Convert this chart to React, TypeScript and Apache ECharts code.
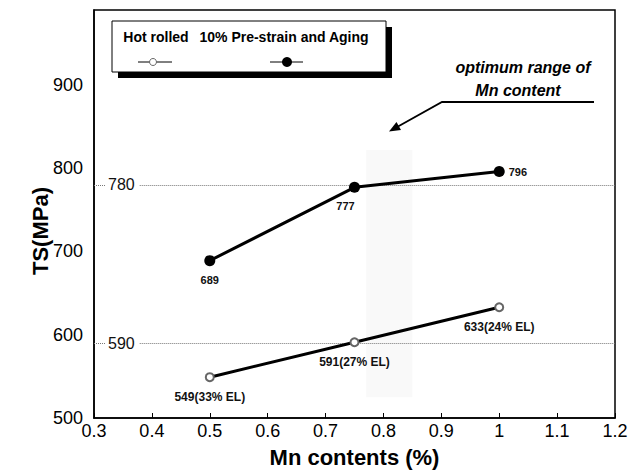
import React, { useEffect, useRef } from "react";
import * as echarts from "echarts";

const mnContents = [0.5, 0.75, 1.0];
const hotRolledTS = [549, 591, 633];
const hotRolledEL = [33, 27, 24];
const agingTS = [689, 777, 796];
const refLines = [780, 590];
const optimumRangeX = [0.77, 0.85];
const optimumRangeY = [525, 822];
const xTicks = { min: 0.3, max: 1.2, interval: 0.1 };
const yTicks = { min: 500, max: 990, interval: 100 };
const legendNames = ["Hot rolled", "10% Pre-strain and Aging"];

const FONT = "Liberation Sans, Arial, Helvetica, sans-serif";

export default function App() {
  const ref = useRef<HTMLDivElement>(null);
  useEffect(() => {
    if (!ref.current) return;
    const chart = echarts.init(ref.current, null, { renderer: "svg" });

    const refLineData: any[] = [];
    refLines.forEach((v) => {
      refLineData.push([{ coord: [0.3, v] }, { coord: [0.319, v] }]);
      refLineData.push([
        {
          coord: [0.379, v],
          label: {
            show: true,
            position: "start",
            distance: 5,
            formatter: String(v),
            fontSize: 16,
            color: "#111",
            fontFamily: FONT,
          },
        },
        { coord: [1.2, v] },
      ]);
    });

    const agingData = mnContents.map((x, i) => {
      const item: any = { value: [x, agingTS[i]] };
      if (i === agingTS.length - 1) {
        item.label = { position: "right", distance: 4 };
      }
      return item;
    });

    const option: any = {
      animation: false,
      backgroundColor: "#fff",
      textStyle: { fontFamily: FONT },
      grid: {
        left: 94,
        right: 29,
        top: 10,
        bottom: 55,
        show: true,
        borderColor: "#000",
        borderWidth: 1.5,
        backgroundColor: "transparent",
      },
      xAxis: {
        type: "value",
        min: xTicks.min,
        max: xTicks.max,
        interval: xTicks.interval,
        name: "Mn contents (%)",
        nameLocation: "middle",
        nameGap: 28,
        nameTextStyle: { fontSize: 22, fontWeight: "bold", color: "#000", fontFamily: FONT },
        axisLine: { show: true, lineStyle: { color: "#000", width: 1.5 } },
        axisTick: { show: true, inside: true, length: 5, lineStyle: { color: "#000" } },
        axisLabel: {
          fontSize: 18,
          color: "#000",
          margin: 4,
          fontFamily: FONT,
          formatter: (v: number) => String(parseFloat(v.toFixed(1))),
        },
        splitLine: { show: false },
      },
      yAxis: {
        type: "value",
        min: yTicks.min,
        max: yTicks.max,
        interval: yTicks.interval,
        axisLine: { show: true, lineStyle: { color: "#000", width: 1.5 } },
        axisTick: { show: false },
        axisLabel: {
          fontSize: 18,
          color: "#000",
          margin: 11,
          fontFamily: FONT,
          formatter: (v: number) => (v % 100 === 0 ? String(v) : ""),
        },
        splitLine: { show: false },
      },
      series: [
        {
          name: legendNames[0],
          type: "line",
          data: mnContents.map((x, i) => [x, hotRolledTS[i]]),
          symbol: "emptyCircle",
          symbolSize: 8,
          itemStyle: { color: "#666", borderWidth: 1 },
          lineStyle: { color: "#000", width: 3 },
          z: 5,
          label: {
            show: true,
            position: "bottom",
            distance: 9,
            fontSize: 12,
            fontWeight: "bold",
            color: "#111",
            fontFamily: FONT,
            formatter: (p: any) => `${hotRolledTS[p.dataIndex]}(${hotRolledEL[p.dataIndex]}% EL)`,
          },
          markArea: {
            silent: true,
            itemStyle: { color: "rgba(0,0,0,0.022)" },
            data: [
              [
                { coord: [optimumRangeX[0], optimumRangeY[0]] },
                { coord: [optimumRangeX[1], optimumRangeY[1]] },
              ],
            ],
          },
        },
        {
          name: legendNames[1],
          type: "line",
          data: agingData,
          symbol: "circle",
          symbolSize: 11,
          itemStyle: { color: "#000" },
          lineStyle: { color: "#000", width: 3 },
          z: 5,
          label: {
            show: true,
            position: "bottom",
            distance: 8,
            fontSize: 11,
            fontWeight: "bold",
            color: "#111",
            fontFamily: FONT,
            formatter: (p: any) => String(agingTS[p.dataIndex]),
          },
          labelLayout: (p: any) => {
            if (p.dataIndex === 1) return { dx: -9 };
            return {};
          },
          markLine: {
            silent: true,
            symbol: "none",
            label: { show: false },
            lineStyle: { type: "dotted", color: "#777", width: 1 },
            data: refLineData,
            z: 1,
          },
        },
      ],
      graphic: [
        {
          type: "text",
          x: 40,
          y: 231,
          rotation: Math.PI / 2,
          z: 12,
          style: {
            text: "TS(MPa)",
            font: `bold 22px ${FONT}`,
            fill: "#000",
            align: "center",
            verticalAlign: "middle",
          },
        },
        { type: "rect", shape: { x: 118, y: 27, width: 274, height: 51 }, style: { fill: "#000" }, z: 10 },
        {
          type: "rect",
          shape: { x: 112, y: 21, width: 274, height: 51 },
          style: { fill: "#fff", stroke: "#000", lineWidth: 1 },
          z: 11,
        },
        {
          type: "text",
          x: 156,
          y: 37,
          z: 12,
          style: {
            text: legendNames[0],
            font: `bold 14px ${FONT}`,
            fill: "#000",
            align: "center",
            verticalAlign: "middle",
          },
        },
        {
          type: "text",
          x: 284,
          y: 37,
          z: 12,
          style: {
            text: legendNames[1],
            font: `bold 14px ${FONT}`,
            fill: "#000",
            align: "center",
            verticalAlign: "middle",
          },
        },
        { type: "line", z: 12, shape: { x1: 138, y1: 62, x2: 172, y2: 62 }, style: { stroke: "#000", lineWidth: 1 } },
        { type: "circle", z: 13, shape: { cx: 153, cy: 62, r: 3.5 }, style: { fill: "#fff", stroke: "#666", lineWidth: 1 } },
        { type: "line", z: 12, shape: { x1: 270, y1: 62, x2: 303, y2: 62 }, style: { stroke: "#000", lineWidth: 1 } },
        { type: "circle", z: 13, shape: { cx: 287, cy: 62, r: 5 }, style: { fill: "#000" } },
        {
          type: "text",
          x: 523,
          y: 67,
          z: 12,
          style: {
            text: "optimum range of",
            font: `italic bold 16px ${FONT}`,
            fill: "#000",
            align: "center",
            verticalAlign: "middle",
          },
        },
        {
          type: "text",
          x: 518,
          y: 90,
          z: 12,
          style: {
            text: "Mn content",
            font: `italic bold 16px ${FONT}`,
            fill: "#000",
            align: "center",
            verticalAlign: "middle",
          },
        },
        {
          type: "polyline",
          z: 12,
          shape: { points: [[594, 102], [442, 102], [398, 126.5]] },
          style: { stroke: "#000", lineWidth: 1.8, fill: null },
        },
        {
          type: "polygon",
          z: 12,
          shape: { points: [[389, 131.5], [401, 130], [396.5, 122]] },
          style: { fill: "#000" },
        },
      ],
    };
    chart.setOption(option);
    return () => chart.dispose();
  }, []);
  return <div ref={ref} style={{ width: 644, height: 473, position: "absolute", left: 0, top: 0 }} />;
}
